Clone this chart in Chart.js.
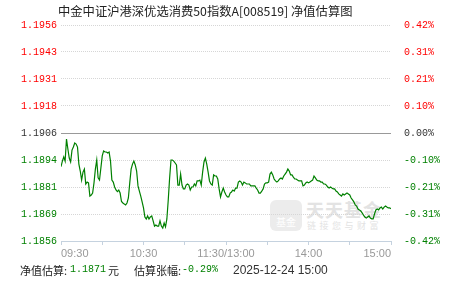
<!DOCTYPE html>
<html>
<head>
<meta charset="utf-8">
<script src="https://cdn.jsdelivr.net/npm/chart.js@4.4.1/dist/chart.umd.min.js"></script>
<style>
  body { margin: 0; background: #fff; }
  #wrap { position: relative; width: 451px; height: 281px; overflow: hidden; font-family: "Noto Sans CJK SC", sans-serif; }
  #grafico { position: absolute; left: 0; top: 0; }
  .txt { position: absolute; white-space: nowrap; line-height: 14px; }
  #titulo { left: 58px; top: 4px; font-size: 12.3px; color: #222; }
  .pie { top: 263px; font-size: 11px; color: #222; }
  .pie.num { font-family: "Liberation Mono", monospace; font-size: 10px; top: 263px; }
  .verde { color: #008000; }
  #marca { position: absolute; left: 270px; top: 200px; color: #e3e3e3; }
  #marca .logo { position: absolute; left: 0; top: 0; width: 32px; height: 31px; border-radius: 6px; background: #ececec; color: #fff; font-size: 10px; text-align: center; line-height: 44px; }
  #marca .nombre { position: absolute; left: 36px; top: -4px; font-size: 18px; font-weight: bold; letter-spacing: 1px; white-space: nowrap; }
  #marca .lema { position: absolute; left: 37px; top: 19px; font-size: 9px; letter-spacing: 3.5px; white-space: nowrap; }
</style>
</head>
<body>
<div id="wrap">
  <div id="marca"><div class="logo">基金</div><div class="nombre">天天基金</div><div class="lema">链接您与财富</div></div>
  <canvas id="grafico" width="451" height="281"></canvas>
  <div id="titulo" class="txt">中金中证沪港深优选消费50指数A[008519] 净值估算图</div>
  <div class="txt pie" style="left:20px">净值估算:</div>
  <div class="txt pie num verde" style="left:70px">1.1871</div>
  <div class="txt pie" style="left:108px">元</div>
  <div class="txt pie" style="left:134px">估算张幅:</div>
  <div class="txt pie num verde" style="left:182px">-0.29%</div>
  <div class="txt pie" style="left:233px;font-family:'Liberation Sans',sans-serif;font-size:12px;color:#333">2025-12-24 15:00</div>
</div>
<script>
// valores estimados (minuto a minuto)
const navManana = [
  1.18904, 1.18930, 1.18949, 1.18930, 1.19032, 1.18986, 1.18944, 1.18926, 1.18981, 1.18995,
  1.19014, 1.19009, 1.18995, 1.18916, 1.18884, 1.18842, 1.18879, 1.18893, 1.18824, 1.18833,
  1.18829, 1.18768, 1.18773, 1.18782, 1.18829, 1.18893, 1.18935, 1.18852, 1.18842, 1.18898,
  1.18954, 1.18977, 1.18972, 1.18972, 1.18967, 1.18972, 1.18930, 1.18842, 1.18833, 1.18810,
  1.18796, 1.18789, 1.18796, 1.18782, 1.18743, 1.18736, 1.18731, 1.18727, 1.18736, 1.18759,
  1.18829, 1.18893, 1.18916, 1.18930, 1.18912, 1.18884, 1.18815, 1.18791, 1.18768, 1.18741,
  1.18713, 1.18671, 1.18662, 1.18676, 1.18662, 1.18671, 1.18676, 1.18653, 1.18629, 1.18634,
  1.18629, 1.18629, 1.18653, 1.18629, 1.18620, 1.18643, 1.18625, 1.18662, 1.18750, 1.18852,
  1.18935, 1.18935, 1.18930, 1.18921, 1.18912, 1.18819, 1.18819, 1.18870, 1.18819, 1.18801,
  1.18801, 1.18819, 1.18824, 1.18819, 1.18796, 1.18810, 1.18810, 1.18824, 1.18815, 1.18838,
  1.18838, 1.18842, 1.18819, 1.18879, 1.18926, 1.18944, 1.18916, 1.18879, 1.18838, 1.18824,
  1.18819, 1.18866, 1.18861, 1.18861, 1.18847, 1.18801, 1.18764, 1.18787, 1.18805, 1.18787,
  1.18773
];
const navTarde = [
  1.18764, 1.18764, 1.18782, 1.18787, 1.18796, 1.18791, 1.18805, 1.18805, 1.18833, 1.18838,
  1.18833, 1.18819, 1.18833, 1.18829, 1.18824, 1.18824, 1.18824, 1.18815, 1.18815, 1.18815,
  1.18815, 1.18805, 1.18796, 1.18782, 1.18782, 1.18791, 1.18801, 1.18824, 1.18829, 1.18829,
  1.18833, 1.18870, 1.18879, 1.18866, 1.18847, 1.18838, 1.18833, 1.18838, 1.18847, 1.18852,
  1.18847, 1.18861, 1.18870, 1.18879, 1.18893, 1.18884, 1.18866, 1.18866, 1.18856, 1.18847,
  1.18847, 1.18842, 1.18838, 1.18838, 1.18838, 1.18815, 1.18819, 1.18829, 1.18833, 1.18829,
  1.18833, 1.18838, 1.18842, 1.18861, 1.18852, 1.18842, 1.18838, 1.18838, 1.18833, 1.18833,
  1.18824, 1.18824, 1.18819, 1.18810, 1.18805, 1.18810, 1.18805, 1.18801, 1.18801, 1.18791,
  1.18787, 1.18778, 1.18773, 1.18768, 1.18778, 1.18773, 1.18778, 1.18782, 1.18778, 1.18773,
  1.18759, 1.18750, 1.18741, 1.18727, 1.18722, 1.18708, 1.18704, 1.18699, 1.18690, 1.18680,
  1.18671, 1.18666, 1.18671, 1.18676, 1.18666, 1.18662, 1.18662, 1.18685, 1.18704, 1.18708,
  1.18704, 1.18713, 1.18717, 1.18708, 1.18717, 1.18722, 1.18717, 1.18713, 1.18713, 1.18710
];

const etiquetasIzq = ['1.1956', '1.1943', '1.1931', '1.1918', '1.1906', '1.1894', '1.1881', '1.1869', '1.1856'];
const etiquetasDer = ['0.42%', '0.31%', '0.21%', '0.10%', '0.00%', '-0.10%', '-0.21%', '-0.31%', '-0.42%'];
const minutosMarca = [0, 30, 60, 90, 120, 150, 180, 210, 240];
const minutosEtiqueta = [0, 60, 120, 180, 240];
const etiquetasHora = ['09:30', '10:30', '11:30/13:00', '14:00', '15:00'];

const navMin = 1.1856;
const navMax = 1.1956;

const serie = navManana.concat(navTarde).map((v, i) => ({ x: i, y: v }));

const ticksY = (scale) => {
  scale.ticks = etiquetasIzq.map((_, i) => ({ value: navMin + i * (navMax - navMin) / (etiquetasIzq.length - 1) }));
};
const colorTick = (ctx) => {
  const i = ctx.index;
  if (i > 4) return '#ff0000';
  if (i === 4) return '#333333';
  return '#008000';
};
const fuenteNum = { family: 'Liberation Mono', size: 10 };

new Chart(document.getElementById('grafico').getContext('2d'), {
  type: 'line',
  data: {
    datasets: [{
      data: serie,
      borderColor: '#008000',
      borderWidth: 1.2,
      pointRadius: 0,
      tension: 0,
      fill: false
    }]
  },
  options: {
    responsive: false,
    animation: false,
    devicePixelRatio: 1,
    layout: { padding: { top: 25, left: 0, right: 0, bottom: 0 } },
    plugins: { legend: { display: false }, tooltip: { enabled: false } },
    scales: {
      x: {
        type: 'linear',
        min: 0,
        max: 240,
        afterBuildTicks: (scale) => { scale.ticks = minutosMarca.map(v => ({ value: v })); },
        afterFit: (scale) => { scale.height = 40; },
        grid: { drawOnChartArea: false, drawTicks: true, tickLength: 4, color: '#c5d2df' },
        border: { display: true, color: '#c5d2df' },
        ticks: {
          autoSkip: false,
          maxRotation: 0,
          align: 'inner',
          padding: 2,
          color: '#999999',
          font: { family: 'Liberation Sans', size: 11 },
          callback: (v) => {
            const k = minutosEtiqueta.indexOf(v);
            return k >= 0 ? etiquetasHora[k] : '';
          }
        }
      },
      y: {
        position: 'left',
        min: navMin,
        max: navMax,
        afterBuildTicks: ticksY,
        afterFit: (scale) => { scale.width = 61; },
        grid: {
          drawTicks: false,
          color: (ctx) => ctx.index === 4 ? '#999999' : '#d6d6d6',
          lineWidth: 1
        },
        border: { display: false, dash: (ctx) => ctx.index === 4 ? [] : [1, 1] },
        ticks: {
          padding: 4,
          color: colorTick,
          font: fuenteNum,
          callback: (v, i) => etiquetasIzq[etiquetasIzq.length - 1 - i]
        }
      },
      y2: {
        position: 'right',
        min: navMin,
        max: navMax,
        afterBuildTicks: ticksY,
        afterFit: (scale) => { scale.width = 60; },
        grid: { display: false },
        border: { display: false },
        ticks: {
          padding: 5,
          color: colorTick,
          font: fuenteNum,
          callback: (v, i) => etiquetasDer[etiquetasDer.length - 1 - i]
        }
      }
    }
  }
});
</script>
</body>
</html>
